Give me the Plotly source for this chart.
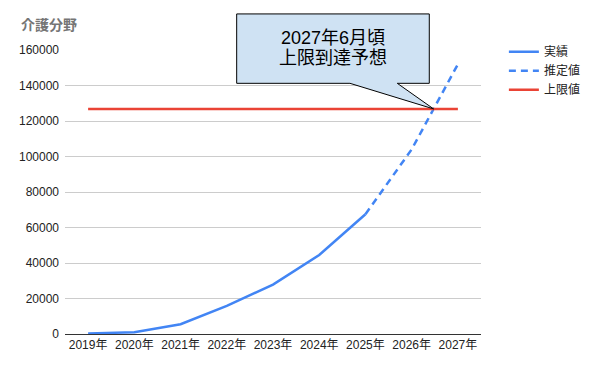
import plotly.graph_objects as go

years = ["2019年", "2020年", "2021年", "2022年", "2023年", "2024年", "2025年", "2026年", "2027年"]
actual_vals = [300, 1000, 5500, 15800, 27800, 44500, 67500]
estimate_vals = [104000, 152000]
limit_val = 126800

title_text = "介護分野"
callout_lines = ["2027年6月頃", "上限到達予想"]

n = len(years)
actual = actual_vals + [None] * (n - len(actual_vals))
estimate = [None] * (len(actual_vals) - 1) + [actual_vals[-1]] + estimate_vals
limit = [limit_val] * n

FONT = "Arial, 'Liberation Sans', 'Noto Sans CJK JP', sans-serif"
BLUE = "#4285f4"
RED = "#ea4335"

fig = go.Figure()
fig.add_trace(go.Scatter(x=years, y=actual, name="実績", mode="lines",
                         line=dict(color=BLUE, width=2.5)))
fig.add_trace(go.Scatter(x=years, y=estimate, name="推定値", mode="lines",
                         line=dict(color=BLUE, width=2.5, dash="7px,5px")))
fig.add_trace(go.Scatter(x=years, y=limit, name="上限値", mode="lines",
                         line=dict(color=RED, width=2.5)))

YMAX = 160000
# crossing point of estimate line with the limit (in category index units)
i0 = n - 2
v0, v1 = estimate[i0], estimate[i0 + 1]
t = (limit_val - v0) / (v1 - v0)
cx = i0 + t
tip_x = (cx + 0.5) / n
tip_y = limit_val / YMAX

# callout box (paper coords)
L, R, T, B = 0.4127, 0.8757, 1.127, 0.8827
b1, b2 = 0.685, 0.7988
path = (f"M {L},{B} L {L},{T} L {R},{T} L {R},{B} L {b2},{B} "
        f"L {tip_x},{tip_y} L {b1},{B} Z")
fig.add_shape(type="path", path=path, xref="paper", yref="paper",
              fillcolor="#cfe2f3", line=dict(color="#000000", width=1), layer="above")

cy = [(334 - 38) / 284, (334 - 58) / 284]
for txt, yy in zip(callout_lines, cy):
    fig.add_annotation(x=(L + R) / 2, y=yy, xref="paper", yref="paper", text=txt,
                       showarrow=False, font=dict(family=FONT, size=18, color="#000000"),
                       xanchor="center", yanchor="middle")

fig.add_annotation(x=(19 - 65) / 416, y=(334 - 25) / 284, xref="paper", yref="paper",
                   text=f"<b>{title_text}</b>", showarrow=False,
                   font=dict(family=FONT, size=14, color="#757575"),
                   xanchor="left", yanchor="middle")

fig.update_layout(
    width=598, height=367,
    margin=dict(l=65, r=117, t=50, b=33),
    paper_bgcolor="white", plot_bgcolor="white",
    font=dict(family=FONT, size=12, color="#222222"),
    showlegend=True,
    legend=dict(x=1.055, y=1.045, xanchor="left", yanchor="top",
                font=dict(family=FONT, size=12, color="#222222"),
                bgcolor="rgba(0,0,0,0)"),
    xaxis=dict(type="category", range=[-0.5, n - 0.5], showgrid=False,
               showline=True, linecolor="#333333", linewidth=1,
               ticks="", tickfont=dict(size=12, color="#222222"), fixedrange=True),
    yaxis=dict(range=[0, YMAX], dtick=20000, showgrid=True, gridcolor="#cccccc",
               gridwidth=1, zeroline=False, showline=False, ticks="",
               ticklabelstandoff=5,
               tickformat="d", tickfont=dict(size=12, color="#222222"), fixedrange=True),
)

fig.write_html("out.html")
